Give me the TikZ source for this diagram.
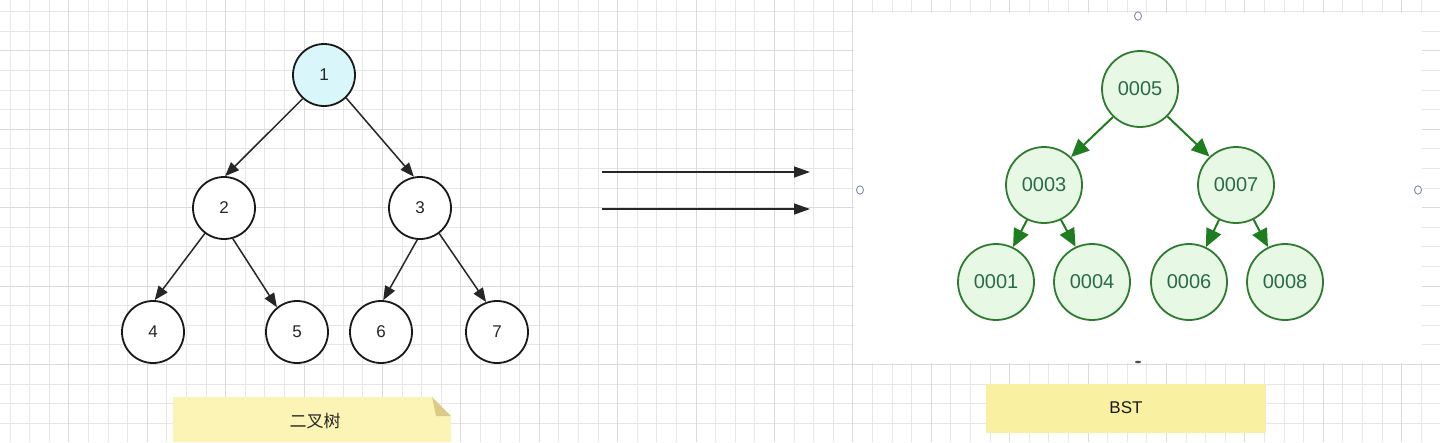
\documentclass[tikz,border=0pt]{standalone}
\usepackage{fontspec}
\setmainfont{Liberation Sans}
\newfontfamily\cjk{Noto Sans CJK SC}
\usetikzlibrary{arrows.meta}
\definecolor{gridminor}{HTML}{E6E6E6}
\definecolor{gridmajor}{HTML}{DADADA}
\definecolor{cyanfill}{HTML}{D9F6FA}
\definecolor{gfill}{HTML}{E7F8E5}
\definecolor{gstroke}{HTML}{2E7A2E}
\definecolor{gtext}{HTML}{2A6A4C}
\definecolor{garrowc}{HTML}{1E7D1E}
\definecolor{notefill}{HTML}{FCF4B4}
\definecolor{notefold}{HTML}{DCCB88}
\definecolor{notefillb}{HTML}{FAF0A2}
\definecolor{handlec}{HTML}{7A8CA6}
\begin{document}
\begin{tikzpicture}[x=1pt,y=-1pt,
  minorline/.style={draw=gridminor,line width=0.8pt},
  majorline/.style={draw=gridmajor,line width=0.9pt},
  bt/.style={circle,draw=black!90,line width=1.8pt,minimum size=62pt,inner sep=0pt,fill=white,text=black!85,font=\fontsize{17}{17}\selectfont},
  gt/.style={circle,draw=gstroke,line width=1.8pt,minimum size=76pt,inner sep=0pt,fill=gfill,text=gtext,font=\fontsize{20}{20}\selectfont},
  barrow/.style={draw=black!85,line width=1.5pt,-{Triangle[length=14pt,width=11pt]}},
  garrow/.style={draw=garrowc,line width=2pt,-{Triangle[length=18pt,width=16pt]}},
  marrow/.style={draw=black!85,line width=1.4pt,-{Triangle[length=16pt,width=11pt]}},
  handle/.style={draw=handlec,line width=0.9pt,fill=white}]
\useasboundingbox (0,0) rectangle (1440,442);
\fill[white] (0,0) rectangle (1440,442);
% grid
\foreach \xx in {10,29.6,...,1440} {\draw[minorline] (\xx,0) -- (\xx,442);}
\foreach \yy in {11.6,31.2,...,442} {\draw[minorline] (0,\yy) -- (1440,\yy);}
\foreach \xx in {68.8,147.2,...,1440} {\draw[majorline] (\xx,0) -- (\xx,442);}
\foreach \yy in {50.8,129.2,...,442} {\draw[majorline] (0,\yy) -- (1440,\yy);}
% white panel of the BST
\fill[white] (854,13) rectangle (1422,363);
% handles
\draw[handle] (1138,16) ellipse [x radius=3.5pt,y radius=4.2pt];
\draw[handle] (860,190) ellipse [x radius=3.5pt,y radius=4.2pt];
\draw[handle] (1418,190) ellipse [x radius=3.5pt,y radius=4.2pt];
\fill[black!70] (1138,362) ellipse [x radius=3pt,y radius=1.3pt];
% left binary tree
\node[bt,fill=cyanfill] (n1) at (324,75) {1};
\node[bt] (n2) at (224,208) {2};
\node[bt] (n3) at (420,208) {3};
\node[bt] (n4) at (153,332) {4};
\node[bt] (n5) at (297,332) {5};
\node[bt] (n6) at (381,332) {6};
\node[bt] (n7) at (497,332) {7};
\draw[barrow] (n1.228) -- (n2.88);
\draw[barrow] (n1.314) -- (n3.101);
\draw[barrow] (n2.233) -- (n4.87);
\draw[barrow] (n2.286) -- (n5.129);
\draw[barrow] (n3.265) -- (n6.86);
\draw[barrow] (n3.307) -- (n7.110);
% middle arrows
\coordinate (a1s) at (602,172);
\coordinate (a1e) at (810,172);
\coordinate (a2s) at (602,209);
\coordinate (a2e) at (810,209);
\draw[marrow] (a1s) -- (a1e);
\draw[marrow] (a2s) -- (a2e);
% BST
\node[gt] (b5) at (1140,89) {0005};
\node[gt] (b3) at (1044,185) {0003};
\node[gt] (b7) at (1236,185) {0007};
\node[gt] (b1) at (996,282) {0001};
\node[gt] (b4) at (1092,282) {0004};
\node[gt] (b6) at (1189,282) {0006};
\node[gt] (b8) at (1285,282) {0008};
\draw[garrow] (b5.226) -- (b3.46);
\draw[garrow] (b5.315) -- (b7.133);
\draw[garrow] (b3.244) -- (b1.64);
\draw[garrow] (b3.296) -- (b4.115);
\draw[garrow] (b7.244) -- (b6.64);
\draw[garrow] (b7.297) -- (b8.116);
% notes
\fill[notefill] (173,397) -- (432,397) -- (451,416) -- (451,442) -- (173,442) -- cycle;
\fill[notefold] (432,397) -- (451,416) -- (436,416) -- cycle;
\node[font=\cjk\fontsize{17}{17}\selectfont,text=black!85] (note1) at (315,421) {二叉树};
\fill[notefillb] (986,384) rectangle (1266,433);
\node[font=\fontsize{17}{17}\selectfont,text=black!90] (note2) at (1126,408) {BST};
\end{tikzpicture}
\end{document}
